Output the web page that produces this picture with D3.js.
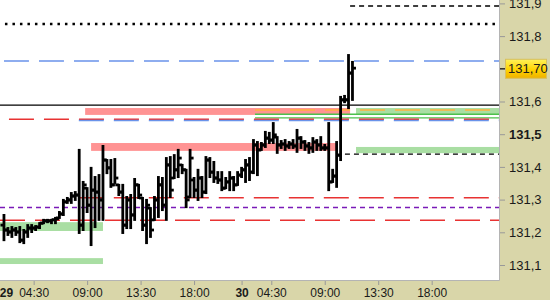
<!DOCTYPE html>
<html>
<head>
<meta charset="utf-8">
<script src="https://cdn.jsdelivr.net/npm/d3@7/dist/d3.min.js"></script>
<style>
  body { margin: 0; background: #fff; }
  svg { display: block; font-family: "Liberation Sans", Arial, sans-serif; }
</style>
</head>
<body>
<div id="chart"></div>
<script>
// bar index 0 = 29th 02:00, one bar every 20 minutes (session 02:00-22:00)
var barHigh = [131.253,131.213,131.216,131.213,131.216,131.207,131.222,131.222,131.219,131.228,
  131.238,131.238,131.238,131.244,131.262,131.299,131.305,131.320,131.323,131.452,
  131.354,131.335,131.397,131.369,131.375,131.464,131.421,131.421,131.424,131.345,
  131.345,131.308,131.314,131.363,131.345,131.305,131.299,131.274,131.308,131.369,
  131.366,131.427,131.430,131.436,131.452,131.406,131.391,131.452,131.366,131.391,
  131.369,131.430,131.427,131.415,131.384,131.384,131.366,131.384,131.369,131.384,
  131.397,131.421,131.427,131.482,131.476,131.473,131.507,131.504,131.534,131.491,
  131.479,131.482,131.476,131.482,131.513,131.491,131.479,131.473,131.488,131.482,
  131.491,131.467,131.534,131.391,131.476,131.614,131.617,131.742,131.721];
var barLow = [131.176,131.192,131.186,131.192,131.170,131.167,131.186,131.201,131.207,131.213,
  131.228,131.231,131.228,131.228,131.244,131.253,131.290,131.290,131.299,131.198,
  131.207,131.262,131.161,131.216,131.238,131.238,131.381,131.339,131.351,131.314,
  131.198,131.213,131.213,131.238,131.305,131.207,131.167,131.186,131.238,131.247,
  131.268,131.238,131.308,131.366,131.369,131.381,131.277,131.308,131.308,131.299,
  131.308,131.320,131.369,131.354,131.351,131.329,131.335,131.329,131.329,131.345,
  131.369,131.354,131.360,131.381,131.375,131.452,131.461,131.473,131.473,131.443,
  131.458,131.452,131.458,131.458,131.446,131.458,131.452,131.443,131.446,131.452,
  131.452,131.452,131.329,131.354,131.339,131.421,131.598,131.580,131.605];
var barOpen = [131.222,131.207,131.201,131.207,131.201,131.176,131.201,131.213,131.213,131.216,
  131.228,131.235,131.235,131.238,131.244,131.256,131.293,131.299,131.311,131.314,
  131.222,131.335,131.283,131.329,131.323,131.299,131.421,131.397,131.345,131.345,
  131.323,131.222,131.299,131.253,131.345,131.305,131.222,131.274,131.238,131.299,
  131.345,131.283,131.406,131.366,131.391,131.406,131.391,131.308,131.360,131.329,
  131.366,131.323,131.421,131.384,131.366,131.360,131.335,131.354,131.366,131.345,
  131.375,131.391,131.406,131.384,131.467,131.452,131.467,131.488,131.482,131.491,
  131.467,131.470,131.464,131.470,131.464,131.488,131.476,131.464,131.458,131.476,
  131.467,131.458,131.458,131.354,131.372,131.436,131.605,131.605,131.687];
var barClose = [131.207,131.201,131.207,131.201,131.176,131.201,131.213,131.213,131.216,131.228,
  131.235,131.235,131.238,131.241,131.256,131.293,131.299,131.311,131.314,131.222,
  131.345,131.283,131.329,131.323,131.299,131.421,131.397,131.345,131.366,131.323,
  131.222,131.299,131.253,131.345,131.314,131.222,131.283,131.207,131.299,131.345,
  131.283,131.406,131.329,131.391,131.427,131.391,131.299,131.427,131.329,131.366,
  131.323,131.421,131.384,131.366,131.360,131.335,131.354,131.366,131.345,131.375,
  131.391,131.406,131.384,131.467,131.452,131.467,131.488,131.482,131.498,131.467,
  131.470,131.464,131.470,131.464,131.488,131.476,131.464,131.458,131.476,131.467,
  131.458,131.458,131.354,131.372,131.436,131.605,131.605,131.687,131.702];

var lastPrice = 131.70;

// time axis (bar index positions)
var timeTicks = [0, 7.5, 21, 34.5, 48, 60, 67.5, 81, 94.5, 108];
var timeLabels = ['29', '04:30', '09:00', '13:30', '18:00', '30', '04:30', '09:00', '13:30', '18:00'];
var priceTicks = [131.1, 131.2, 131.3, 131.4, 131.5, 131.6, 131.7, 131.8, 131.9];

// zones: from index, to index, low price, high price, kind
var zoneFrom = [20.5, 22, 88.9, 88.9, -1, -1];
var zoneTo   = [87.4, 84.3, 125, 125, 25, 25];
var zoneLow  = [131.559, 131.449, 131.559, 131.442, 131.204, 131.103];
var zoneHigh = [131.580, 131.473, 131.580, 131.461, 131.231, 131.121];
var zoneKind = ['sell', 'sell', 'buy', 'buy', 'buy', 'buy'];

// level lines: price, start index, kind
var levelPrice = [131.892, 131.837, 131.724, 131.589, 131.574, 131.561, 131.550, 131.546, 131.542, 131.439, 131.306, 131.276, 131.237];
var levelFrom  = [87.4, 0.25, 0, -1, 63.4, 63.4, 63.4, 1.26, 18.9, 86.1, 18.9, -1, -1];
var levelKind  = ['shortDash', 'dots', 'blue', 'solid', 'orange', 'green', 'green', 'red', 'blue', 'shortDash', 'red', 'purple', 'red'];

var zoneStyle = { sell: '#ff9393', buy: '#a9dea3' };
var lineStyle = {
  shortDash: { stroke: '#000', width: 1.3, dash: '5,4' },
  dots: { stroke: '#000', width: 2.5, dash: '2.5,5' },
  blue: { stroke: '#6a93ea', width: 1.5, dash: '25,10' },
  solid: { stroke: '#000', width: 1.3, dash: null },
  orange: { stroke: '#ffb43c', width: 1.5, dash: '25,10' },
  green: { stroke: '#4cc04c', width: 1.3, dash: null },
  red: { stroke: '#e83232', width: 1.5, dash: '25,10' },
  purple: { stroke: '#7a1ab8', width: 1.5, dash: '5,4' }
};

var W = 550, H = 300, plotR = 499, plotB = 280;

var x = d3.scaleLinear().domain([-1, 125]).range([0, plotR]);
var y = d3.scaleLinear().domain([131.1, 131.9]).range([265, 3.4]);

var svg = d3.select('#chart').append('svg').attr('width', W).attr('height', H);

svg.append('rect').attr('width', W).attr('height', H).attr('fill', '#d9d6a9');
svg.append('rect').attr('width', plotR).attr('height', plotB).attr('fill', '#fff');

var plot = svg.append('g');
plot.append('clipPath').attr('id', 'clip').append('rect').attr('width', plotR).attr('height', plotB);
plot.attr('clip-path', 'url(#clip)');

// zones
zoneKind.forEach(function(k, i) {
  plot.append('rect')
    .attr('x', x(zoneFrom[i]))
    .attr('width', x(zoneTo[i]) - x(zoneFrom[i]))
    .attr('y', y(zoneHigh[i]))
    .attr('height', y(zoneLow[i]) - y(zoneHigh[i]))
    .attr('fill', zoneStyle[k]);
});

// levels
levelKind.forEach(function(k, i) {
  var s = lineStyle[k];
  plot.append('line')
    .attr('x1', x(levelFrom[i])).attr('x2', plotR)
    .attr('y1', y(levelPrice[i])).attr('y2', y(levelPrice[i]))
    .attr('stroke', s.stroke)
    .attr('stroke-width', s.width)
    .attr('stroke-dasharray', s.dash);
});

// OHLC bars
var bars = plot.selectAll('g.bar').data(barHigh).enter().append('g').attr('class', 'bar');
bars.append('line')
  .attr('x1', function(d, i) { return x(i); }).attr('x2', function(d, i) { return x(i); })
  .attr('y1', function(d) { return y(d) - 1; })
  .attr('y2', function(d, i) { return y(barLow[i]) + 1; });
bars.append('line')
  .attr('x1', function(d, i) { return x(i) - 3.5; }).attr('x2', function(d, i) { return x(i); })
  .attr('y1', function(d, i) { return y(barOpen[i]); })
  .attr('y2', function(d, i) { return y(barOpen[i]); });
bars.append('line')
  .attr('x1', function(d, i) { return x(i); }).attr('x2', function(d, i) { return x(i) + 3.5; })
  .attr('y1', function(d, i) { return y(barClose[i]); })
  .attr('y2', function(d, i) { return y(barClose[i]); });
bars.selectAll('line').attr('stroke', '#000').attr('stroke-width', 2.8);

// borders
svg.append('line').attr('x1', plotR + 0.5).attr('x2', plotR + 0.5).attr('y1', 0).attr('y2', plotB + 0.5)
  .attr('stroke', '#b4b4b4');
svg.append('line').attr('x1', 0).attr('x2', plotR + 0.5).attr('y1', plotB + 0.5).attr('y2', plotB + 0.5)
  .attr('stroke', '#b4b4b4');

// price axis
var yAxis = svg.append('g').attr('transform', 'translate(' + (plotR + 1) + ',0)')
  .call(d3.axisRight(y).tickValues(priceTicks).tickSize(5).tickPadding(4)
    .tickFormat(function(d) { return d3.format('.1f')(d).replace('.', ','); }));
yAxis.select('.domain').remove();
yAxis.selectAll('line').attr('stroke', '#999');
yAxis.selectAll('text').attr('fill', '#1a1a1a').style('font-size', '13px')
  .style('font-weight', function(d) { return d === 131.5 ? 'bold' : null; });
// the last-price marker sits on the 131,7 tick
yAxis.selectAll('.tick').filter(function(d) { return Math.abs(d - lastPrice) < 0.001; }).select('text').remove();

// time axis
var xAxis = svg.append('g').attr('transform', 'translate(0,' + (plotB + 1) + ')')
  .call(d3.axisBottom(x).tickValues(timeTicks).tickSize(4).tickPadding(3)
    .tickFormat(function(d, i) { return timeLabels[i]; }));
xAxis.select('.domain').remove();
xAxis.selectAll('line').attr('stroke', '#999');
xAxis.selectAll('text').attr('fill', '#1a1a1a').style('font-size', '12px')
  .style('font-weight', function(d, i) { return timeLabels[i].length === 2 ? 'bold' : null; })
  .attr('dx', function(d, i) { return i === 0 ? 2 : 0; });
xAxis.selectAll('.tick').filter(function(d, i) { return i === 0; }).select('line').remove();

// last price marker
var grad = svg.append('defs').append('linearGradient').attr('id', 'lp')
  .attr('x1', 0).attr('x2', 0).attr('y1', 0).attr('y2', 1);
grad.append('stop').attr('offset', '0%').attr('stop-color', '#fff25a');
grad.append('stop').attr('offset', '55%').attr('stop-color', '#ffd400');
grad.append('stop').attr('offset', '100%').attr('stop-color', '#eeb000');
var yl = y(lastPrice);
svg.append('rect').attr('x', 505.5).attr('y', yl - 9.5).attr('width', 41).attr('height', 19)
  .attr('fill', 'url(#lp)').attr('stroke', '#d8c060');
svg.append('line').attr('x1', plotR + 1).attr('x2', 505).attr('y1', yl).attr('y2', yl).attr('stroke', '#000');
svg.append('text').attr('x', 508).attr('y', yl).attr('dy', '0.35em')
  .style('font-size', '13px').attr('fill', '#1a1a1a')
  .text(d3.format('.2f')(lastPrice).replace('.', ','));
</script>
</body>
</html>
